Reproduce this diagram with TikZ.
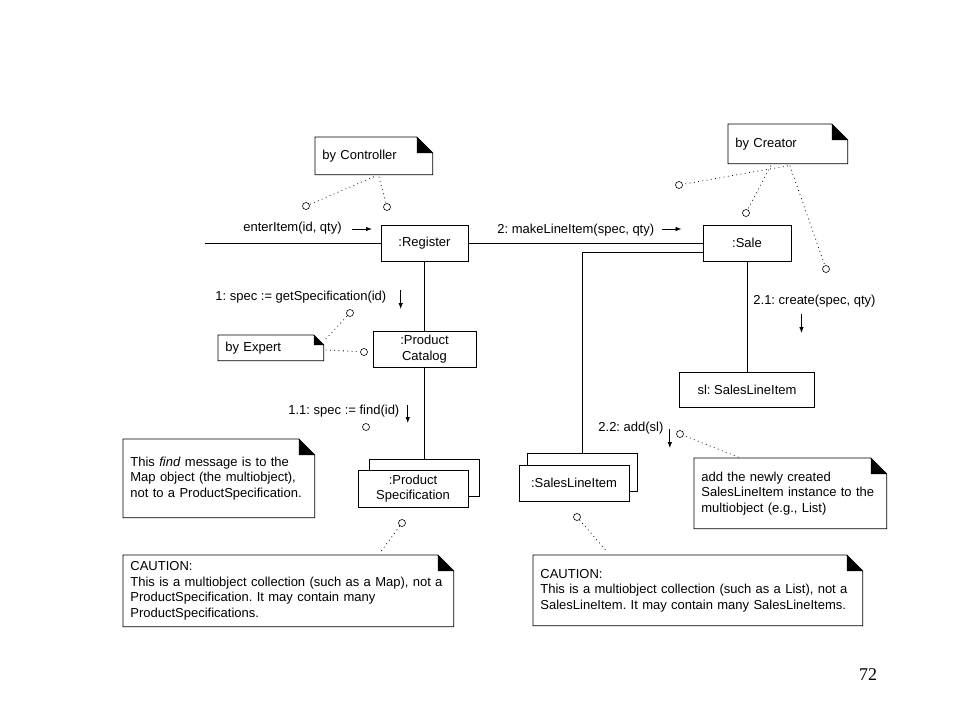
\documentclass[tikz,border=0pt]{standalone}
\usepackage{fontspec}
\setmainfont{Liberation Sans}
\newfontfamily\pagefont{Liberation Serif}
\usetikzlibrary{arrows.meta}
\frenchspacing

% note outline with a folded corner: node name, fold size
\newcommand{\dognote}[2]{%
  \draw (#1.south west) -- (#1.north west) -- ([xshift=-#2]#1.north east)
    -- ([yshift=-#2]#1.north east) -- (#1.south east) -- cycle;
  \fill ([xshift=-#2]#1.north east) -- ([xshift=-#2,yshift=-#2]#1.north east)
    -- ([yshift=-#2]#1.north east) -- cycle;}

\begin{document}
\begin{tikzpicture}[x=1pt,y=-1pt,line width=0.8pt,
  every node/.style={font=\fontsize{13}{15.5}\selectfont},
  obj/.style={draw,fill=white,inner sep=0pt,align=center},
  notebox/.style={anchor=north west,inner xsep=7pt,inner ysep=0pt,align=left},
  hole/.style={draw,circle,fill=white,inner sep=0pt,minimum size=7pt,line width=0.6pt},
  dots/.style={dash pattern=on 0.8pt off 3.5pt},
  msg/.style={-{Latex[length=6pt,width=4.5pt]}},
  lbl/.style={anchor=west,inner sep=0pt}]
\useasboundingbox (0,0) rectangle (960,720);

\node[obj,minimum width=87,minimum height=36] (reg) at (424.5,243) {:Register}; % Register
\node[obj,minimum width=88,minimum height=36] (sale) at (747,243) {:Sale}; % Sale
\node[obj,minimum width=103,minimum height=36] (cat) at (424.5,349) {:Product\\Catalog}; % Catalog
\node[obj,minimum width=135,minimum height=35] (sl) at (747,389.5) {sl: SalesLineItem}; % sl
\node[obj,minimum width=110,minimum height=37] (psB) at (424.5,477.5) {}; % ProductSpecification.back
\node[obj,minimum width=110,minimum height=37] (psF) at (413,488.5) {:Product\\Specification}; % ProductSpecification.front
\node[obj,minimum width=110,minimum height=38] (sliB) at (582,472) {}; % SalesLineItem.back
\node[obj,minimum width=110,minimum height=36] (sliF) at (574,483) {:SalesLineItem}; % SalesLineItem.front

\coordinate (in) at (205,243); % actor side
\draw (in) -- (reg);
\draw (reg) -- (sale);
\draw ([yshift=-9pt]sale.west) -| (sliB.north);
\draw (reg) -- (cat);
\draw (cat) -- (psB);
\draw (sale) -- (sl);

\node[lbl] (m0) at (243,228) {enterItem(id, qty)}; % msg.0
\draw[msg] (m0.east) ++(10,1) -- ++(20,0);
\node[lbl] (m2) at (497,230) {2: makeLineItem(spec, qty)}; % msg.2
\draw[msg] (m2.east) ++(7,-1) -- ++(20,0);
\node[lbl] (m1) at (215,297) {1: spec := getSpecification(id)}; % msg.1
\draw[msg] (m1.east) ++(14,-7) -- ++(0,19);
\node[lbl] (m11) at (288,411) {1.1: spec := find(id)}; % msg.1.1
\draw[msg] (m11.east) ++(8,-6) -- ++(0,18);
\node[lbl] (m21) at (753,301) {2.1: create(spec, qty)}; % msg.2.1
\draw[msg] (m21.center) ++(-13,13) -- ++(0,19);
\node[lbl] (m22) at (598,428) {2.2: add(sl)}; % msg.2.2
\draw[msg] (m22.east) ++(6,1) -- ++(0,19);

\node[notebox,text width=103,minimum height=37] (nCtrl) at (315,137) {by Controller};
\dognote{nCtrl}{16pt}
\node[notebox,text width=105,minimum height=39] (nCreator) at (728,124) {by Creator};
\dognote{nCreator}{16pt}
\node[notebox,text width=91,minimum height=25] (nExpert) at (218,335) {by Expert};
\dognote{nExpert}{10pt}
\node[notebox,text width=177,minimum height=78] (nFind) at (123,439)
  {This \textit{find} message is to the\\Map object (the multiobject),\\not to a ProductSpecification.};
\dognote{nFind}{16pt}
\node[notebox,text width=316,minimum height=71] (nCaut1) at (123,555)
  {CAUTION:\\This is a multiobject collection (such as a Map), not a\\ProductSpecification. It may contain many\\ProductSpecifications.};
\dognote{nCaut1}{16pt}
\node[notebox,text width=178,minimum height=70] (nAdd) at (694,458)
  {add the newly created\\SalesLineItem instance to the\\multiobject (e.g., List)};
\dognote{nAdd}{16pt}
\node[notebox,text width=315,minimum height=70] (nCaut2) at (533,555)
  {CAUTION:\\This is a multiobject collection (such as a List), not a\\SalesLineItem. It may contain many SalesLineItems.};
\dognote{nCaut2}{16pt}

\node[hole] (cC1) at (306,206) {}; % anchor.ctrl.1
\node[hole] (cC2) at (387,207) {}; % anchor.ctrl.2
\node[hole] (cS1) at (679,185) {}; % anchor.creator.1
\node[hole] (cS2) at (746,213) {}; % anchor.creator.2
\node[hole] (cS3) at (826,269) {}; % anchor.creator.3
\node[hole] (cE1) at (350,313) {}; % anchor.expert.1
\node[hole] (cE2) at (364,352) {}; % anchor.expert.2
\node[hole] (cF) at (366,427) {}; % anchor.find
\node[hole] (cPS) at (402,523) {}; % anchor.caution.1
\node[hole] (cAdd) at (680,434) {}; % anchor.add
\node[hole] (cSLI) at (577,517) {}; % anchor.caution.2

\draw[dots] ([yshift=-2pt]nCtrl.south) -- (cC1);
\draw[dots] ([xshift=5pt,yshift=-2pt]nCtrl.south) -- (cC2);
\draw[dots] ([yshift=-2pt]nCreator.south) -- (cS1);
\draw[dots] ([xshift=-17pt,yshift=-2pt]nCreator.south) -- (cS2);
\draw[dots] ([xshift=2pt,yshift=-2pt]nCreator.south) -- (cS3);
\draw[dots] ([xshift=2pt,yshift=-4pt]nExpert.north east) -- (cE1);
\draw[dots] ([xshift=2pt,yshift=-2pt]nExpert.east) -- (cE2);
\draw[dots,shorten >=2pt] (cPS) -- ([xshift=90pt]nCaut1.north);
\draw[dots,shorten <=2pt] ([xshift=-50pt]nAdd.north) -- (cAdd);
\draw[dots,shorten >=6pt] (cSLI) -- ([xshift=-88pt]nCaut2.north);

\node[font=\pagefont\fontsize{18}{18}\selectfont] (pg) at (868,675) {72}; % page
\end{tikzpicture}
\end{document}
